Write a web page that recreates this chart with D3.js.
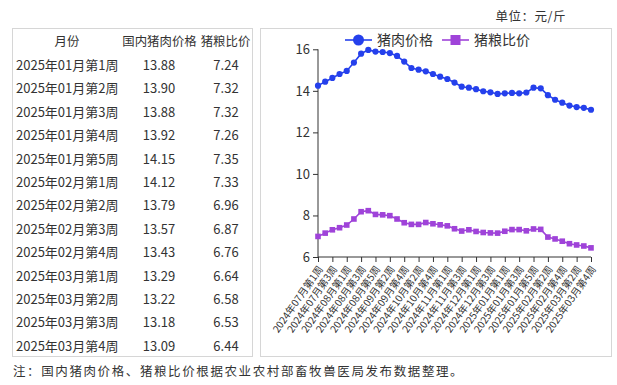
<!DOCTYPE html>
<html>
<head>
<meta charset="utf-8">
<script src="https://cdn.jsdelivr.net/npm/d3@7"></script>
<style>
body { margin: 0; background: #fff; }
text { font-family: "Noto Sans CJK SC", "Noto Sans", sans-serif; fill: #333; }
.axis path, .axis line { stroke: #333; }
</style>
</head>
<body>
<svg id="svgChart"></svg>
<script>
/// DATA ////////////////////////////////////////////////////////////////////

// table (left)
var tableHeader = ['月份', '国内猪肉价格', '猪粮比价'];
var tableWeeks = ['2025年01月第1周', '2025年01月第2周', '2025年01月第3周', '2025年01月第4周',
    '2025年01月第5周', '2025年02月第1周', '2025年02月第2周', '2025年02月第3周', '2025年02月第4周',
    '2025年03月第1周', '2025年03月第2周', '2025年03月第3周', '2025年03月第4周'];
var tablePrice = ['13.88', '13.90', '13.88', '13.92', '14.15', '14.12', '13.79', '13.57', '13.43',
    '13.29', '13.22', '13.18', '13.09'];
var tableRatio = ['7.24', '7.32', '7.32', '7.26', '7.35', '7.33', '6.96', '6.87', '6.76',
    '6.64', '6.58', '6.53', '6.44'];

// line chart (right)
var weeks = ['2024年07月第1周', '2024年07月第2周', '2024年07月第3周', '2024年07月第4周',
    '2024年08月第1周', '2024年08月第2周', '2024年08月第3周', '2024年08月第4周', '2024年08月第5周',
    '2024年09月第1周', '2024年09月第2周', '2024年09月第3周', '2024年09月第4周',
    '2024年10月第1周', '2024年10月第2周', '2024年10月第3周', '2024年10月第4周', '2024年10月第5周',
    '2024年11月第1周', '2024年11月第2周', '2024年11月第3周', '2024年11月第4周',
    '2024年12月第1周', '2024年12月第2周', '2024年12月第3周', '2024年12月第4周',
    '2025年01月第1周', '2025年01月第2周', '2025年01月第3周', '2025年01月第4周', '2025年01月第5周',
    '2025年02月第1周', '2025年02月第2周', '2025年02月第3周', '2025年02月第4周',
    '2025年03月第1周', '2025年03月第2周', '2025年03月第3周', '2025年03月第4周'];
var porkPrice = [14.25, 14.44, 14.62, 14.81, 14.96, 15.36, 15.79, 15.97, 15.89,
    15.87, 15.82, 15.68, 15.41, 15.10, 15.02, 14.94, 14.81, 14.68,
    14.57, 14.40, 14.20, 14.15, 14.08, 13.98, 13.93, 13.85,
    13.88, 13.90, 13.88, 13.92, 14.15, 14.12, 13.79, 13.57, 13.43,
    13.29, 13.22, 13.18, 13.09];
var grainRatio = [6.99, 7.15, 7.31, 7.41, 7.54, 7.83, 8.18, 8.23, 8.05,
    8.03, 7.99, 7.83, 7.65, 7.57, 7.57, 7.66, 7.60, 7.55,
    7.50, 7.36, 7.25, 7.31, 7.23, 7.18, 7.16, 7.15,
    7.24, 7.32, 7.32, 7.26, 7.35, 7.33, 6.96, 6.87, 6.76,
    6.64, 6.58, 6.53, 6.44];
var yTicks = [6, 8, 10, 12, 14, 16];
var seriesNames = ['猪肉价格', '猪粮比价'];
var unitText = '单位：元/斤';
var noteText = '注：国内猪肉价格、猪粮比价根据农业农村部畜牧兽医局发布数据整理。';

/// SETUP ///////////////////////////////////////////////////////////////////

var W = 617, H = 385;
var BLUE = '#2540ec', PURPLE = '#9f43d9';

var svg = d3.select('#svgChart').attr('width', W).attr('height', H);

/// TABLE ///////////////////////////////////////////////////////////////////

svg.append('rect')
    .attr('x', 12.5).attr('y', 28.5).attr('width', 240).attr('height', 328)
    .attr('fill', 'none').attr('stroke', '#d6d6d6');

var rowY = d3.scaleLinear().domain([0, 13]).range([42, 346.3]);
var table_g = svg.append('g').style('font-size', '13px');

// header
var headX = [67, 159.5, 225.5];
tableHeader.forEach(function (h, i) {
    table_g.append('text')
        .attr('x', headX[i]).attr('y', rowY(0)).attr('dy', '0.35em')
        .attr('text-anchor', 'middle').style('font-size', '12.4px').text(h);
});

table_g.selectAll('.wk').data(tableWeeks).enter().append('text')
    .attr('x', 16).attr('y', function (d, i) { return rowY(i + 1) })
    .attr('dy', '0.35em').text(function (d) { return d });
table_g.selectAll('.pr').data(tablePrice).enter().append('text')
    .attr('x', 159).attr('y', function (d, i) { return rowY(i + 1) })
    .attr('dy', '0.35em').attr('text-anchor', 'middle').text(function (d) { return d });
table_g.selectAll('.ra').data(tableRatio).enter().append('text')
    .attr('x', 226).attr('y', function (d, i) { return rowY(i + 1) })
    .attr('dy', '0.35em').attr('text-anchor', 'middle').text(function (d) { return d });

/// CHART ///////////////////////////////////////////////////////////////////

svg.append('rect')
    .attr('x', 260.5).attr('y', 28.5).attr('width', 351).attr('height', 328)
    .attr('fill', 'none').attr('stroke', '#d6d6d6');

svg.append('text')
    .attr('x', 566).attr('y', 17).attr('dy', '0.35em').attr('text-anchor', 'end')
    .style('font-size', '12.5px').style('letter-spacing', '0.5px').text(unitText);

var x = d3.scalePoint().domain(weeks).range([318, 591]);
var y = d3.scaleLinear().domain([6, 16]).range([257, 49.3]);

// y axis
svg.append('g')
    .attr('class', 'axis')
    .attr('transform', 'translate(318,0)')
    .call(d3.axisLeft(y).tickValues(yTicks).tickSize(5).tickPadding(3))
    .call(function (g) { g.select('.domain').attr('d', 'M0,' + y(6) + 'V' + y(16)) })
    .selectAll('text').style('font-size', '13px').attr('fill', '#333');

// x axis, label every other week
var xTickVals = weeks.filter(function (d, i) { return i % 2 === 0 });
var xAxis = svg.append('g')
    .attr('class', 'axis')
    .attr('transform', 'translate(0,' + y(6) + ')')
    .call(d3.axisBottom(x).tickValues(xTickVals).tickSize(5).tickSizeOuter(0));
xAxis.select('.domain').attr('d', 'M318,0H591');
xAxis.selectAll('text')
    .style('font-size', '10px')
    .attr('fill', '#333')
    .attr('text-anchor', 'end')
    .attr('dy', '0.35em')
    .attr('transform', 'translate(2,10) rotate(-55)')
    .attr('y', 0).attr('x', 0);

// lines
var lineGen = function (vals) {
    return d3.line()
        .x(function (d, i) { return x(weeks[i]) })
        .y(function (d) { return y(d) })(vals);
};

svg.append('path').attr('d', lineGen(porkPrice))
    .attr('fill', 'none').attr('stroke', BLUE).attr('stroke-width', 1.6);
svg.append('path').attr('d', lineGen(grainRatio))
    .attr('fill', 'none').attr('stroke', PURPLE).attr('stroke-width', 1.6);

svg.append('g').selectAll('circle').data(porkPrice).enter().append('circle')
    .attr('cx', function (d, i) { return x(weeks[i]) })
    .attr('cy', function (d) { return y(d) })
    .attr('r', 3.1).attr('fill', BLUE);

svg.append('g').selectAll('rect').data(grainRatio).enter().append('rect')
    .attr('x', function (d, i) { return x(weeks[i]) - 2.8 })
    .attr('y', function (d) { return y(d) - 2.8 })
    .attr('width', 5.6).attr('height', 5.6).attr('fill', PURPLE);

// legend
var legend = svg.append('g').attr('transform', 'translate(0,40)');
var legX = [345, 442];
var legColor = [BLUE, PURPLE];
seriesNames.forEach(function (name, i) {
    var g = legend.append('g').attr('transform', 'translate(' + legX[i] + ',0)');
    g.append('line').attr('x1', 0).attr('x2', 27).attr('y1', 0).attr('y2', 0)
        .attr('stroke', legColor[i]).attr('stroke-width', 1.6);
    if (i === 0) {
        g.append('circle').attr('cx', 13.5).attr('cy', 0).attr('r', 5.5).attr('fill', BLUE);
    } else {
        g.append('rect').attr('x', 8.5).attr('y', -5).attr('width', 10).attr('height', 10).attr('fill', PURPLE);
    }
    g.append('text').attr('x', 32).attr('y', 0).attr('dy', '0.35em')
        .style('font-size', '14px').text(name);
});

/// NOTE ////////////////////////////////////////////////////////////////////

svg.append('text')
    .attr('x', 13).attr('y', 372).attr('dy', '0.35em')
    .style('font-size', '12.5px').style('letter-spacing', '1.6px')
    .text(noteText);
</script>
</body>
</html>
